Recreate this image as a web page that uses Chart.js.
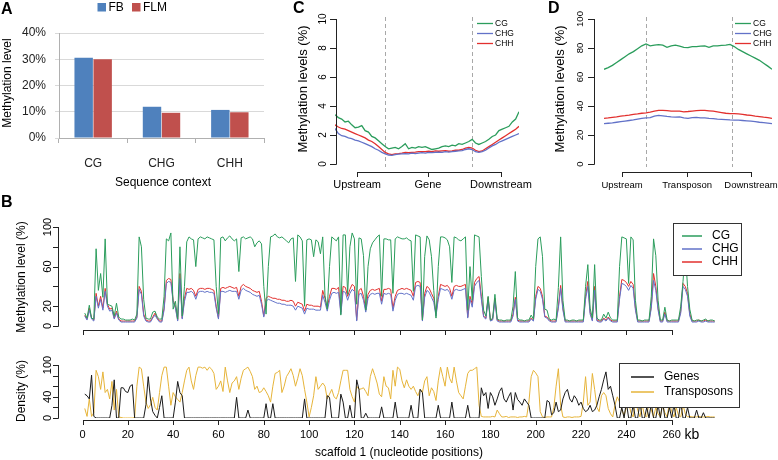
<!DOCTYPE html>
<html><head><meta charset="utf-8"><title>DNA methylation</title>
<script src="https://cdn.jsdelivr.net/npm/chart.js@4.4.1/dist/chart.umd.min.js"></script>
<style>
html,body{margin:0;padding:0;background:#fff}
#wrap{position:relative;width:778px;height:460px;overflow:hidden;background:#fff}
#wrap canvas{position:absolute;left:0;top:0}
</style>
</head><body><div id="wrap">
<canvas id="cA" width="778" height="460"></canvas>
<canvas id="cC" width="778" height="460"></canvas>
<canvas id="cD" width="778" height="460"></canvas>
<canvas id="cB1" width="778" height="460"></canvas>
<canvas id="cB2" width="778" height="460"></canvas>
</div>
<script>
// ---------------- DATA ----------------
// Panel A
const aCategories = ['CG', 'CHG', 'CHH'];
const aFB  = [30.6, 11.9, 10.7];
const aFLM = [30.0, 9.6, 9.8];

// Panel B (scaffold 1, 1-kb windows)
const bPos = Array.from({length: 279}, (_, i) => i + 1); // kb
const bXTicks = [0,20,40,60,80,100,120,140,160,180,200,220,240,260];
const bTopYTicks = [0,20,40,60,80,100];
const bTopYLabels = [0,20,60,100];
const bBotYTicks = [0,20,40,60,80,100];
const bBotYLabels = [0,40,100];
const bCG = [13,8,21,8,7,78,36,53,29,88,
22,21,20,10,23,9,7,7,6,6,
6,7,6,12,90,80,27,8,7,7,
14,15,9,7,7,30,88,86,94,17,
25,7,80,10,40,85,90,88,87,60,
88,90,89,88,90,89,88,87,40,12,
89,90,86,89,91,88,86,88,55,89,
90,88,89,90,88,80,84,86,83,40,
12,60,90,91,93,90,89,90,88,86,
84,88,89,45,92,90,86,20,87,88,
87,70,87,85,73,90,31,17,60,90,
88,86,90,11,92,92,32,80,94,88,
22,89,88,71,16,60,78,84,87,90,
92,30,88,88,87,87,33,88,90,89,
88,88,89,87,86,35,92,91,90,6,
70,91,87,70,36,8,60,90,90,89,
87,80,44,90,89,87,86,88,90,16,
60,26,92,91,90,50,16,10,30,6,
8,32,7,6,6,5,6,6,6,20,
55,8,6,6,5,6,6,11,7,60,
88,90,70,17,16,7,6,7,6,39,
90,26,6,6,5,6,6,5,6,6,
6,40,62,18,8,62,8,6,6,12,
8,14,8,6,6,6,60,90,89,88,
43,90,87,26,6,6,5,6,6,6,
30,88,71,26,6,6,19,6,5,6,
6,6,6,20,45,75,40,17,6,5,
6,6,5,6,7,5,6,6,5];
const bCHG = [10,6,16,7,5,30,18,27,16,35,
20,15,16,7,13,6,4,4,4,4,
4,4,4,8,37,32,10,5,4,4,
8,11,7,4,4,16,43,45,44,24,
18,5,48,7,25,34,34,35,33,27,
34,35,35,34,35,34,34,33,18,7,
35,35,34,35,36,35,35,35,27,36,
38,36,35,34,32,31,30,31,22,9,
25,27,26,25,24,23,23,22,22,21,
21,21,20,16,20,19,18,12,18,17,
17,17,16,16,16,31,24,15,26,33,
34,33,34,12,35,34,26,33,37,35,
5,32,33,26,14,28,32,33,32,33,
33,22,33,32,33,32,15,26,32,33,
33,32,33,32,31,26,40,41,40,5,
29,36,34,29,24,10,27,38,37,36,
37,34,27,36,37,36,36,37,38,8,
27,19,40,44,46,27,9,7,26,5,
6,25,5,4,4,4,4,4,4,10,
27,5,4,4,4,4,4,7,5,27,
37,35,27,9,8,5,4,4,4,18,
38,16,4,4,4,4,4,4,4,4,
4,27,40,12,5,36,5,4,4,7,
5,8,5,4,4,4,27,43,42,40,
36,41,38,16,4,4,4,4,4,4,
18,46,36,16,4,4,12,4,4,4,
4,4,4,13,40,37,30,10,4,4,
4,5,4,4,5,4,4,4,4];
const bCHH = [11,7,18,8,6,33,20,30,18,38,
22,17,18,8,15,7,5,5,5,5,
5,5,5,9,40,35,12,6,5,5,
9,13,8,5,5,18,46,48,47,26,
20,6,53,8,28,38,37,38,36,30,
37,38,38,37,38,38,37,36,20,8,
38,39,38,39,40,39,38,39,30,40,
42,40,39,38,36,35,34,35,25,10,
28,30,29,28,28,27,27,26,26,25,
25,26,25,20,24,23,22,15,22,21,
21,20,20,20,19,36,28,18,30,38,
38,37,39,14,40,39,30,37,42,40,
6,36,38,30,16,32,36,37,36,37,
38,25,37,37,38,37,18,30,36,37,
38,37,38,37,36,30,44,45,44,6,
33,40,38,33,28,12,30,42,41,40,
41,38,30,40,41,40,40,41,42,9,
30,22,44,48,50,30,10,8,29,6,
7,28,6,5,5,5,5,5,5,12,
29,6,5,5,5,5,5,8,6,30,
40,38,30,10,9,6,5,5,5,20,
41,18,5,5,5,5,5,5,5,5,
5,30,45,14,6,40,6,5,5,8,
6,9,6,5,5,5,30,47,46,44,
40,45,42,18,5,5,5,5,5,5,
20,53,40,18,5,5,14,5,5,5,
5,5,5,15,43,40,33,12,5,5,
5,6,5,5,6,5,5,5,5];
const bGenes = [45,42,36,81,3,0,0,0,0,0,
0,0,24,72,0,0,57,57,50,48,
60,63,0,0,0,0,0,25,78,36,
12,5,0,20,42,0,0,0,0,0,
30,69,48,42,0,0,0,0,0,0,
0,0,0,0,0,0,0,0,0,0,
0,0,0,0,0,0,0,39,0,0,
0,0,15,0,0,0,0,0,0,0,
27,0,0,27,0,0,0,0,0,0,
0,0,0,0,0,0,0,36,0,0,
0,0,0,0,0,0,0,42,39,0,
0,0,0,45,30,0,0,24,0,0,
72,54,0,0,9,0,0,0,0,0,
0,21,0,0,0,0,0,30,0,0,
0,0,0,0,24,0,0,0,54,48,
0,0,0,0,0,0,24,0,0,0,
0,0,30,0,0,0,0,0,0,24,
0,0,0,0,0,57,42,48,18,48,
40,24,36,50,57,36,30,40,48,15,
48,35,30,24,36,30,24,0,0,0,
0,0,0,0,33,30,6,10,30,12,
15,36,48,54,36,30,42,36,24,30,
18,12,15,24,12,15,24,40,54,72,
87,54,60,42,24,0,0,20,0,30,
0,0,25,0,0,30,0,0,20,0,
28,0,0,25,0,30,0,0,20,0,
25,0,0,30,0,0,20,0,0,0,
15,0,0,10,0,0,0,0,0];
const bTransposons = [18,3,36,3,10,90,78,54,87,48,
54,36,69,15,54,2,1,0,0,0,
0,0,1,60,96,93,60,30,18,25,
39,20,15,48,80,96,96,60,24,48,
40,35,30,48,70,90,96,70,54,80,
96,96,94,96,90,96,92,84,54,60,
70,50,96,70,48,66,70,78,54,75,
90,93,96,88,78,54,60,48,50,57,
50,42,30,60,84,86,90,48,60,78,
85,93,80,60,75,93,80,54,30,2,
20,42,78,54,60,66,60,36,45,54,
40,36,48,70,90,90,90,54,40,30,
60,54,55,57,50,42,78,93,80,66,
45,40,78,60,57,36,90,60,96,92,
70,57,72,60,54,60,50,42,54,48,
70,78,42,57,50,33,70,96,78,60,
96,75,66,96,70,48,42,36,60,84,
90,90,93,96,24,3,2,2,2,2,
3,2,15,8,2,2,3,1,2,2,
2,1,2,2,3,2,30,78,90,85,
78,12,2,1,2,2,2,20,60,93,
24,2,1,2,2,1,2,2,2,3,
30,78,24,30,84,54,20,12,42,48,
42,18,8,2,25,40,30,15,5,20,
30,10,2,35,15,2,25,5,2,30,
15,2,20,8,2,25,10,2,30,12,
2,20,5,2,25,8,2,3,2,2,
2,3,2,2,2,3,2,2,2];

// Panel C (genes: 15 upstream bins, 26 gene bins, 15 downstream bins)
const cBins = Array.from({length: 56}, (_, i) => i);
const cBounds = [15, 41];
const cRegionLabels = ['Upstream', 'Gene', 'Downstream'];
const cRegionAt = [6.6, 27.8, 49.6];
const cYTicks = [0,2,4,6,8,10];
const cCG = [3.4,3.2,3.1,2.9,2.95,2.7,2.5,2.55,2.65,2.3,2.2,1.9,1.8,1.6,1.4,1.2,1.05,1.1,1.15,1.05,1.2,1.4,1.05,1.15,1.1,1.2,1.15,1.2,1.1,1.0,1.05,1.1,1.2,1.25,1.2,1.3,1.25,1.4,1.35,1.45,1.55,1.7,1.45,1.35,1.45,1.55,1.7,1.9,2.0,2.3,2.4,2.5,2.6,2.9,3.1,3.6];
const cCHG = [2.45,2.1,1.95,1.9,1.8,1.75,1.65,1.6,1.5,1.4,1.3,1.2,1.05,0.95,0.8,0.7,0.62,0.6,0.65,0.68,0.7,0.72,0.7,0.75,0.72,0.75,0.78,0.75,0.8,0.78,0.8,0.82,0.8,0.85,0.82,0.85,0.88,0.9,0.92,1.0,1.05,1.0,0.85,0.8,0.85,0.95,1.1,1.25,1.35,1.5,1.6,1.7,1.8,1.9,2.0,2.1];
const cCHH = [2.7,2.55,2.45,2.4,2.3,2.2,2.1,2.0,1.9,1.8,1.65,1.55,1.4,1.2,1.0,0.8,0.7,0.65,0.7,0.72,0.75,0.8,0.78,0.8,0.82,0.85,0.85,0.85,0.88,0.85,0.9,0.88,0.9,0.92,0.88,0.9,0.95,0.95,1.0,1.1,1.15,1.1,0.95,0.85,0.9,1.05,1.2,1.35,1.5,1.65,1.8,1.95,2.1,2.25,2.4,2.6];

// Panel D (transposons)
const dBins = Array.from({length: 41}, (_, i) => i);
const dBounds = [10, 30.5];
const dRegionLabels = ['Upstream', 'Transposon', 'Downstream'];
const dRegionAt = [4.3, 19.8, 35];
const dYTicks = [0,20,40,60,80,100];
const dCG = [65.3,66.5,68,70,72,74,76,77.5,79.5,81.5,82.8,81.5,82,82.3,82,80.5,81.5,82,81.3,80.5,80.2,81,81,81.3,81.5,80.5,81.5,81.5,81.8,82,82.5,81,79,77.5,76,74.5,73,71.5,69.5,67.5,65.3];
const dCHG = [27.8,28.1,28.4,28.8,29.2,29.6,30,30.4,31,31.5,31.8,32,33,33.5,33.2,32.8,32.5,32.3,32.5,31.8,31.5,32,32.2,31.8,31.8,31.5,31.3,31,30.8,30.6,30.4,30.3,30.2,30,29.8,29.5,29.2,28.8,28.5,28.2,27.9];
const dCHH = [31.5,31.8,32.2,32.5,33,33.3,33.7,34.2,34.5,35,35.3,35.8,36.5,37,37,36.8,36.5,36.5,36.4,36,36.2,36.5,36.8,37,37,36.7,36.4,36,35.5,35,34.8,34.7,34.5,34.2,33.8,33.5,33,32.7,32.3,32,31.5];

// ---------------- HELPERS ----------------
const F = "'Liberation Sans', Arial, Helvetica, sans-serif";
const COL = {CG:'#2b9d5c', CHG:'#6272c8', CHH:'#e2302e', genes:'#1a1a1a', te:'#e6b43a', axis:'#222'};
Chart.defaults.font.family = F;
function T(ctx, s, x, y, size, o) {
  o = o || {};
  ctx.save();
  ctx.font = (o.bold ? 'bold ' : '') + size + 'px ' + F;
  ctx.fillStyle = o.color || '#000';
  ctx.textAlign = o.align || 'center';
  ctx.textBaseline = o.base || 'middle';
  ctx.translate(x, y);
  if (o.rot) ctx.rotate(o.rot);
  ctx.fillText(s, 0, 0);
  ctx.restore();
}
function L(ctx, x1, y1, x2, y2, color, w, dash) {
  ctx.save();
  ctx.strokeStyle = color || COL.axis; ctx.lineWidth = w || 1;
  if (dash) ctx.setLineDash(dash);
  ctx.beginPath(); ctx.moveTo(x1, y1); ctx.lineTo(x2, y2); ctx.stroke();
  ctx.restore();
}
const pts = (xs, ys) => xs.map((x, i) => ({x: x, y: ys[i]}));
const lineDs = (label, xs, ys, color, w) => ({label: label, data: pts(xs, ys), borderColor: color, backgroundColor: color, borderWidth: w, pointRadius: 0, tension: 0, fill: false});

// Generic R-style decoration plugin
function rDeco(cfg) {
  return {
    id: 'rdeco' + cfg.id,
    beforeDatasetsDraw(chart) {
      const ctx = chart.ctx, xs = chart.scales.x;
      (cfg.dashes || []).forEach(v => {
        const X = Math.round(xs.getPixelForValue(v)) + 0.5;
        L(ctx, X, cfg.dashY[0], X, cfg.dashY[1], '#a8a8a8', 1, [4, 3]);
      });
    },
    afterDraw(chart) {
      const ctx = chart.ctx, xs = chart.scales.x, ys = chart.scales.y;
      const ya = cfg.yAxis, xa = cfg.xAxis;
      // y axis
      const yt0 = ys.getPixelForValue(ya.ticks[0]), yt1 = ys.getPixelForValue(ya.ticks[ya.ticks.length - 1]);
      L(ctx, ya.x + 0.5, yt0 + 0.5, ya.x + 0.5, yt1);
      ya.ticks.forEach(v => { const p = Math.round(ys.getPixelForValue(v)) + 0.5; L(ctx, ya.x - ya.len, p, ya.x + 0.5, p); });
      ya.labels.forEach(v => T(ctx, String(v), ya.labelX, ys.getPixelForValue(v), ya.size, {rot: -Math.PI / 2}));
      // x axis
      const xt0 = xs.getPixelForValue(xa.ticks[0]), xt1 = xs.getPixelForValue(xa.ticks[xa.ticks.length - 1]);
      L(ctx, Math.round(xt0), xa.y + 0.5, Math.round(xt1) + 1, xa.y + 0.5);
      xa.ticks.forEach(v => { const p = Math.round(xs.getPixelForValue(v)) + 0.5; L(ctx, p, xa.y, p, xa.y + xa.len); });
      if (xa.labels) xa.labels.forEach((s, i) => T(ctx, String(s), xs.getPixelForValue(xa.ticks[i]), xa.labelY, xa.size));
      // titles
      (cfg.texts || []).forEach(t => T(ctx, t.s, t.x, t.y, t.size, t));
      // legend
      const lg = cfg.legend;
      if (lg) {
        if (lg.box) {
          const b = lg.box;
          ctx.save(); ctx.fillStyle = '#fff'; ctx.fillRect(b[0], b[1], b[2] - b[0], b[3] - b[1]);
          ctx.strokeStyle = '#333'; ctx.lineWidth = 1; ctx.strokeRect(b[0] + 0.5, b[1] + 0.5, b[2] - b[0], b[3] - b[1]); ctx.restore();
        }
        chart.data.datasets.forEach((d, i) => {
          const y = lg.y0 + i * lg.dy;
          L(ctx, lg.lx[0], y, lg.lx[1], y, d.borderColor, lg.lw);
          T(ctx, d.label, lg.tx, y, lg.size, {align: 'left'});
        });
      }
    }
  };
}

function rChart(id, datasets, area, xr, yr, deco) {
  return new Chart(document.getElementById(id), {
    type: 'line',
    data: {datasets: datasets},
    options: {
      responsive: false, animation: false, devicePixelRatio: 1,
      layout: {padding: {left: area[0], top: area[1], right: 778 - area[2], bottom: 460 - area[3]}},
      plugins: {legend: {display: false}, tooltip: {enabled: false}},
      events: [],
      scales: {
        x: {type: 'linear', min: xr[0], max: xr[1], display: false},
        y: {type: 'linear', min: yr[0], max: yr[1], display: false}
      }
    },
    plugins: [rDeco(deco)]
  });
}

// ---------------- PANEL A ----------------
const aDeco = {
  id: 'adeco',
  afterDraw(chart) {
    const ctx = chart.ctx;
    T(ctx, 'A', 1, 13.5, 16, {bold: true, align: 'left', base: 'alphabetic'});
    const lx = [97.5, 132];
    chart.data.datasets.forEach((d, i) => {
      ctx.fillStyle = d.backgroundColor; ctx.fillRect(lx[i], 3, 8.5, 8.5);
      T(ctx, d.label, lx[i] + 11, 7.5, 12, {align: 'left'});
    });
    T(ctx, 'Methylation level', 7.5, 83, 12, {rot: -Math.PI / 2});
    T(ctx, 'Sequence context', 163, 183, 12);
  }
};
new Chart(document.getElementById('cA'), {
  type: 'bar',
  data: {labels: aCategories, datasets: [
    {label: 'FB', data: aFB, backgroundColor: '#4f81bd', categoryPercentage: 0.556, barPercentage: 0.97},
    {label: 'FLM', data: aFLM, backgroundColor: '#c0504d', categoryPercentage: 0.556, barPercentage: 0.97}
  ]},
  options: {
    responsive: false, animation: false, devicePixelRatio: 1, events: [],
    layout: {padding: {left: 0, top: 33, right: 778 - 264, bottom: 460 - 200}},
    plugins: {legend: {display: false}, tooltip: {enabled: false}},
    scales: {
      x: {grid: {offset: true, drawOnChartArea: false, drawTicks: true, tickLength: 5, color: '#b0b0b0'},
          border: {color: '#b0b0b0'},
          ticks: {font: {family: F, size: 12}, color: '#222', padding: 13},
          afterFit(s) { s.height = 62; }},
      y: {min: 0, max: 40,
          ticks: {stepSize: 10, callback: v => v + '%', font: {family: F, size: 12}, color: '#222', padding: 9},
          grid: {color: '#d9d9d9', tickLength: 4},
          border: {color: '#b0b0b0'},
          afterFit(s) { s.width = 59; }}
    }
  },
  plugins: [aDeco]
});

// ---------------- PANEL C ----------------
rChart('cC', [
  lineDs('CG', cBins, cCG, COL.CG, 1.3),
  lineDs('CHG', cBins, cCHG, COL.CHG, 1.3),
  lineDs('CHH', cBins, cCHH, COL.CHH, 1.3)
], [335, 19, 519, 164], [0, 55], [0, 10], {
  id: 'C', dashes: cBounds, dashY: [17, 167],
  yAxis: {x: 336, ticks: cYTicks, labels: cYTicks, labelX: 323, size: 10, len: 6},
  xAxis: {y: 172, ticks: cRegionAt, labels: cRegionLabels, labelY: 184.5, size: 11, len: 5},
  texts: [{s: 'C', x: 293, y: 12.5, size: 16, bold: true, align: 'left', base: 'alphabetic'},
          {s: 'Methylation levels (%)', x: 303, y: 89, size: 13, rot: -Math.PI / 2}],
  legend: {y0: 23.5, dy: 10, lx: [477, 493], tx: 495, size: 8.5, lw: 1.3}
});

// ---------------- PANEL D ----------------
rChart('cD', [
  lineDs('CG', dBins, dCG, COL.CG, 1.3),
  lineDs('CHG', dBins, dCHG, COL.CHG, 1.3),
  lineDs('CHH', dBins, dCHH, COL.CHH, 1.3)
], [604, 19, 772, 164], [0, 40], [0, 100], {
  id: 'D', dashes: dBounds, dashY: [17, 167],
  yAxis: {x: 594, ticks: dYTicks, labels: dYTicks, labelX: 580, size: 9.5, len: 6},
  xAxis: {y: 172, ticks: dRegionAt, labels: dRegionLabels, labelY: 185, size: 9.5, len: 5},
  texts: [{s: 'D', x: 548, y: 12.5, size: 16, bold: true, align: 'left', base: 'alphabetic'},
          {s: 'Methylation levels (%)', x: 560, y: 89, size: 13, rot: -Math.PI / 2}],
  legend: {y0: 23.5, dy: 10, lx: [735, 751], tx: 753, size: 8.5, lw: 1.3}
});

// ---------------- PANEL B (top) ----------------
rChart('cB1', [
  lineDs('CG', bPos, bCG, COL.CG, 1),
  lineDs('CHG', bPos, bCHG, COL.CHG, 1),
  lineDs('CHH', bPos, bCHH, COL.CHH, 1)
], [82.5, 227, 717, 326], [0, 280], [0, 100], {
  id: 'B1',
  yAxis: {x: 58, ticks: bTopYTicks, labels: bTopYLabels, labelX: 48, size: 11, len: 5},
  xAxis: {y: 330, ticks: bXTicks, labels: null, labelY: 0, size: 11, len: 5},
  texts: [{s: 'B', x: 1, y: 207, size: 16, bold: true, align: 'left', base: 'alphabetic'},
          {s: 'Methylation level (%)', x: 22, y: 277, size: 12, rot: -Math.PI / 2}],
  legend: {box: [673, 223, 741, 275], y0: 236, dy: 13, lx: [682, 702], tx: 712, size: 12, lw: 1.5}
});

// ---------------- PANEL B (bottom) ----------------
rChart('cB2', [
  lineDs('Genes', bPos, bGenes, COL.genes, 1),
  lineDs('Transposons', bPos, bTransposons, COL.te, 1)
], [82.5, 365, 717, 418], [0, 280], [0, 100], {
  id: 'B2',
  yAxis: {x: 58, ticks: bBotYTicks, labels: bBotYLabels, labelX: 48, size: 11, len: 5},
  xAxis: {y: 420, ticks: bXTicks, labels: bXTicks, labelY: 435, size: 11, len: 5},
  texts: [{s: 'Density (%)', x: 22, y: 391, size: 12, rot: -Math.PI / 2},
          {s: 'kb', x: 692, y: 435, size: 14},
          {s: 'scaffold 1 (nucleotide positions)', x: 399, y: 453, size: 12}],
  legend: {box: [619, 363, 739, 407], y0: 377, dy: 15, lx: [631, 654], tx: 664, size: 12, lw: 1.5}
});
</script>
</body></html>
